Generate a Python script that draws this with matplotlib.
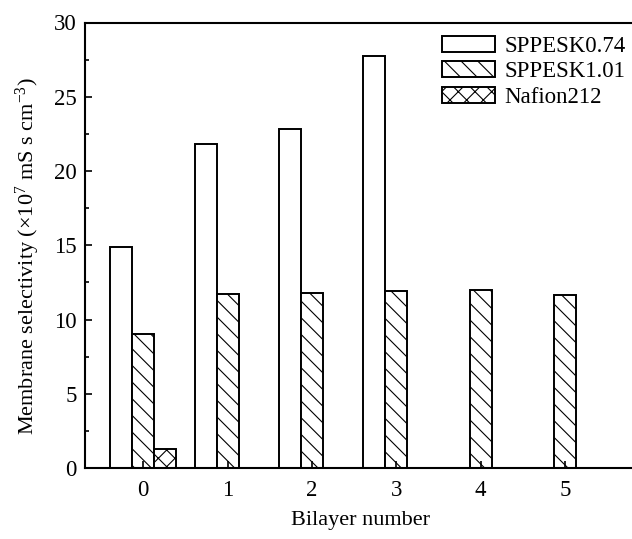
import numpy as np
import matplotlib.pyplot as plt
from matplotlib.ticker import MultipleLocator

plt.rcParams['font.family'] = ['Liberation Serif', 'DejaVu Serif']
plt.rcParams['mathtext.fontset'] = 'custom'
plt.rcParams['mathtext.rm'] = 'Liberation Serif'
plt.rcParams['mathtext.it'] = 'Liberation Serif:italic'
plt.rcParams['hatch.linewidth'] = 0.8
plt.rcParams['hatch.color'] = '#444444'

bilayers = [0, 1, 2, 3, 4, 5]
sppesk074 = [14.9, 21.8, 22.85, 27.75, 0, 0]
sppesk101 = [9.0, 11.7, 11.8, 11.9, 12.0, 11.65]
nafion212 = [1.3, 0, 0, 0, 0, 0]
labels = ['SPPESK0.74', 'SPPESK1.01', 'Nafion212']

fig = plt.figure(figsize=(6.32, 5.39), dpi=100)
ax = fig.add_axes([85 / 632, 71 / 539, 551 / 632, 445.5 / 539])

x = np.array(bilayers, dtype=float)
w = 0.26
kw = dict(edgecolor='black', linewidth=1.4, facecolor='white')
# only draw bars that exist
m1 = np.array(sppesk074) > 0
m3 = np.array(nafion212) > 0
ax.bar(x[m1] - w, np.array(sppesk074)[m1], w, label=labels[0], **kw)
ax.bar(x, sppesk101, w, hatch='\\\\', label=labels[1], **kw)
ax.bar(x[m3] + w, np.array(nafion212)[m3], w, hatch='xx', label=labels[2], **kw)

ax.set_xlim(-0.69, 5.84)
ax.set_ylim(0, 30)
ax.set_xticks(bilayers)
ax.yaxis.set_major_locator(MultipleLocator(5))
ax.yaxis.set_minor_locator(MultipleLocator(2.5))
ax.tick_params(axis='both', which='both', direction='in', labelsize=16.5,
               top=False, right=False, width=1.2)
ax.tick_params(which='major', length=5)
ax.tick_params(which='minor', length=3)
ax.tick_params(axis='x', pad=9)
ax.tick_params(axis='y', pad=6)
for s in ax.spines.values():
    s.set_linewidth(1.5)

ax.set_xlabel('Bilayer number', fontsize=16, labelpad=7)
ax.set_ylabel('Membrane selectivity (×10$^{7}$ mS s cm$^{-3}$)', fontsize=16)
ax.yaxis.set_label_coords(-0.078, 0.476)

ax.legend(loc='upper right', bbox_to_anchor=(1.008, 1.004), frameon=False, fontsize=16.5,
          handlelength=2.3, handleheight=0.7, handletextpad=0.4, labelspacing=0.2,
          borderaxespad=0.25)

fig.savefig('out.png', dpi=100)
